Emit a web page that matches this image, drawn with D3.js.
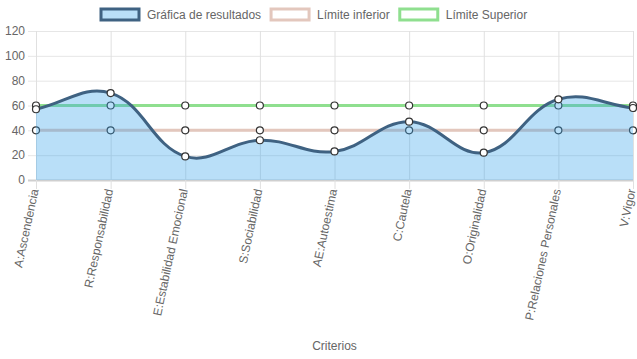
<!DOCTYPE html>
<html>
<head>
<meta charset="utf-8">
<script src="https://cdn.jsdelivr.net/npm/d3@7"></script>
<style>
  body { margin: 0; background: #fff; }
  text { font-family: "Liberation Sans", Arial, Helvetica, sans-serif; }
</style>
</head>
<body>
<svg width="637" height="359"></svg>
<script>

var criterios = ["A:Ascendencia", "R:Responsabilidad", "E:Estabilidad Emocional", "S:Sociabilidad",
  "AE:Autoestima", "C:Cautela", "O:Originalidad", "P:Relaciones Personales", "V:Vigor"];
var resultados = [57, 70, 19, 32, 23, 47, 22, 65, 58];
var limiteInferior = [40, 40, 40, 40, 40, 40, 40, 40, 40];
var limiteSuperior = [60, 60, 60, 60, 60, 60, 60, 60, 60];
var yTicks = [0, 20, 40, 60, 80, 100, 120];
var leyenda = ["Gráfica de resultados", "Límite inferior", "Límite Superior"];

var svg = d3.select("svg"),
    margin = {top: 31, right: 4, bottom: 179, left: 36},
    width = +svg.attr("width") - margin.left - margin.right,
    height = +svg.attr("height") - margin.top - margin.bottom;

var x = d3.scalePoint().domain(criterios).range([0, width]);
var y = d3.scaleLinear().domain([0, 120]).range([height, 0]);

var g = svg.append("g").attr("transform", "translate(" + margin.left + "," + margin.top + ")");

// grid
g.selectAll(".hgrid").data(yTicks).enter().append("line")
    .attr("x1", -8).attr("x2", width)
    .attr("y1", function(d) { return y(d) + 0.5; })
    .attr("y2", function(d) { return y(d) + 0.5; })
    .attr("stroke", function(d) { return d == 0 ? "#cfcfcf" : "#e6e6e6"; })
    .attr("stroke-width", function(d) { return d == 0 ? 2 : 1; });

g.selectAll(".vgrid").data(criterios).enter().append("line")
    .attr("x1", function(d) { return x(d) + 0.5; })
    .attr("x2", function(d) { return x(d) + 0.5; })
    .attr("y1", 0).attr("y2", height + 9)
    .attr("stroke", "#e0e0e0");

g.selectAll(".ylab").data(yTicks).enter().append("text")
    .attr("x", -11).attr("y", function(d) { return y(d); })
    .attr("dy", "0.35em")
    .attr("text-anchor", "end")
    .style("font-size", "12px").style("fill", "#666")
    .text(function(d) { return d; });

g.selectAll(".xlab").data(criterios).enter().append("text")
    .attr("transform", function(d) { return "translate(" + (x(d) - 1.5) + "," + (height + 9) + ") rotate(-78)"; })
    .attr("dy", "0.35em")
    .attr("text-anchor", "end")
    .style("font-size", "12px").style("fill", "#666")
    .text(function(d) { return d; });

svg.append("text")
    .attr("x", margin.left + width / 2).attr("y", 350)
    .attr("text-anchor", "middle")
    .style("font-size", "12px").style("fill", "#666")
    .text("Criterios");

// chart.js-like spline (tension 0.4)
function spline(values, closeBase) {
  var pts = values.map(function(v, i) { return [x(criterios[i]), y(v)]; });
  var t = 0.4, cps = [];
  pts.forEach(function(p, i) {
    var prev = pts[i - 1] || p, next = pts[i + 1] || p;
    var d01 = Math.hypot(p[0] - prev[0], p[1] - prev[1]);
    var d12 = Math.hypot(next[0] - p[0], next[1] - p[1]);
    var s01 = d01 / (d01 + d12 || 1), s12 = d12 / (d01 + d12 || 1);
    var fa = t * s01, fb = t * s12;
    cps.push({
      p: [p[0] - fa * (next[0] - prev[0]), Math.min(height, Math.max(0, p[1] - fa * (next[1] - prev[1])))],
      n: [p[0] + fb * (next[0] - prev[0]), Math.min(height, Math.max(0, p[1] + fb * (next[1] - prev[1])))]
    });
  });
  var d = "M" + pts[0];
  for (var i = 1; i < pts.length; i++) {
    d += "C" + cps[i - 1].n + " " + cps[i].p + " " + pts[i];
  }
  if (closeBase) d += "L" + pts[pts.length - 1][0] + "," + y(0) + "L" + pts[0][0] + "," + y(0) + "Z";
  return d;
}

function serie(values, color, width) {
  g.append("path")
      .attr("d", spline(values, false))
      .attr("fill", "none").attr("stroke", color).attr("stroke-width", width);
  g.selectAll(null).data(values).enter().append("circle")
      .attr("cx", function(d, i) { return x(criterios[i]); })
      .attr("cy", function(d) { return y(d); })
      .attr("r", 3.5)
      .attr("fill", "#fff").attr("stroke", "#333").attr("stroke-width", 1.2);
}

serie(limiteSuperior, "#8fdf8f", 3);
serie(limiteInferior, "#e3c7bd", 3);

g.append("path")
    .attr("d", spline(resultados, true))
    .attr("fill", "rgba(54,162,235,0.35)").attr("stroke", "none");
serie(resultados, "#3f6282", 3);

// legend
var legColors = [
  {fill: "rgba(54,162,235,0.35)", stroke: "#3f6282"},
  {fill: "#fff", stroke: "#e3c7bd"},
  {fill: "#fff", stroke: "#8fdf8f"}
];
var lg = svg.append("g");
var lx = 101;
leyenda.forEach(function(name, i) {
  lg.append("rect").attr("x", lx).attr("y", 9).attr("width", 38).attr("height", 11)
      .attr("fill", legColors[i].fill).attr("stroke", legColors[i].stroke).attr("stroke-width", 3);
  var tx = lg.append("text").attr("x", lx + 46).attr("y", 15).attr("dy", "0.35em")
      .style("font-size", "12px").style("fill", "#666").text(name);
  lx += 46 + tx.node().getComputedTextLength() + 10;
});

</script>
</body>
</html>
